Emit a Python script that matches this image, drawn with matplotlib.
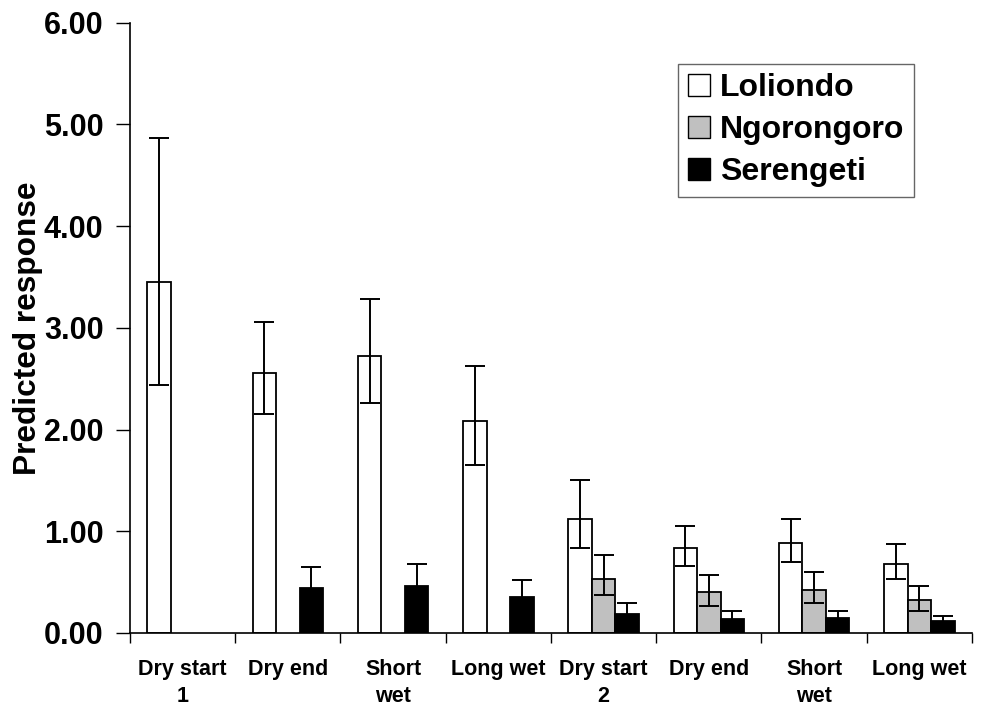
import matplotlib.pyplot as plt
import numpy as np
from matplotlib.patches import Patch

plt.rcParams["font.family"] = ["Liberation Sans", "DejaVu Sans"]
plt.rcParams["font.weight"] = "bold"

periods = ["Dry start\n1", "Dry end", "Short\nwet", "Long wet",
           "Dry start\n2", "Dry end", "Short\nwet", "Long wet"]

# predicted response, NaN where the site has no estimate
loliondo = [3.45, 2.56, 2.72, 2.08, 1.12, 0.84, 0.885, 0.68]
loliondo_hi = [4.87, 3.06, 3.28, 2.62, 1.50, 1.05, 1.12, 0.875]
loliondo_lo = [2.44, 2.15, 2.26, 1.65, 0.84, 0.66, 0.70, 0.53]

ngorongoro = [np.nan, np.nan, np.nan, np.nan, 0.53, 0.40, 0.42, 0.32]
ngorongoro_hi = [np.nan, np.nan, np.nan, np.nan, 0.77, 0.57, 0.60, 0.46]
ngorongoro_lo = [np.nan, np.nan, np.nan, np.nan, 0.37, 0.27, 0.29, 0.22]

serengeti = [np.nan, 0.44, 0.46, 0.35, 0.19, 0.14, 0.15, 0.115]
serengeti_hi = [np.nan, 0.65, 0.68, 0.52, 0.29, 0.22, 0.22, 0.17]
serengeti_lo = [np.nan, 0.29, 0.30, 0.23, 0.12, 0.09, 0.10, 0.07]

series = [
    ("Loliondo", loliondo, loliondo_lo, loliondo_hi, "white"),
    ("Ngorongoro", ngorongoro, ngorongoro_lo, ngorongoro_hi, "#C0C0C0"),
    ("Serengeti", serengeti, serengeti_lo, serengeti_hi, "black"),
]

fig = plt.figure(figsize=(9.81, 7.07), dpi=100)
ax = fig.add_axes([0.1325, 0.1047, 0.8583, 0.8633])

x = np.arange(len(periods))
width = 0.223
handles = []
for i, (name, vals, lo, hi, color) in enumerate(series):
    vals = np.array(vals, dtype=float)
    lo = np.array(lo, dtype=float)
    hi = np.array(hi, dtype=float)
    pos = x + (i - 1) * width
    ok = ~np.isnan(vals)
    ax.bar(pos[ok], vals[ok], width, color=color, edgecolor="black", linewidth=1.3, zorder=2)
    ax.errorbar(pos[ok], vals[ok], yerr=[vals[ok] - lo[ok], hi[ok] - vals[ok]],
                fmt="none", ecolor="black", elinewidth=1.4, capsize=7, capthick=1.4, zorder=3)
    handles.append(Patch(facecolor=color, edgecolor="black", linewidth=1.0, label=name))

ax.set_xlim(-0.5, len(periods) - 0.5)
ax.set_ylim(0, 6)
ax.set_yticks(np.arange(0, 7, 1))
ax.set_yticklabels([f"{v:.2f}" for v in np.arange(0, 7, 1)], fontsize=22, fontweight="bold")
ax.set_xticks(x)
ax.set_xticklabels(periods, fontsize=15.5, fontweight="bold", linespacing=1.33)
ax.set_xticks(np.arange(-0.5, len(periods)), minor=True)
ax.tick_params(axis="x", which="major", length=0, pad=19)
ax.tick_params(axis="x", which="minor", length=7, width=1.0, direction="out")
ax.tick_params(axis="y", length=10, width=1.0, direction="out", pad=9)
ax.spines[["top", "right"]].set_visible(False)
ax.spines[["left", "bottom"]].set_linewidth(1.2)
ax.set_ylabel("Predicted response", fontsize=22.8, fontweight="bold", labelpad=1)

leg = ax.legend(handles=handles, loc="upper left", bbox_to_anchor=(0.651, 0.933),
                prop={"weight": "bold", "size": 23}, frameon=True, fancybox=False,
                edgecolor="#404040", handlelength=0.7, handleheight=0.7, handletextpad=0.3,
                labelspacing=0.38, borderpad=0.3, borderaxespad=0)
leg.get_frame().set_linewidth(1.0)

fig.savefig("out.png", dpi=100)
